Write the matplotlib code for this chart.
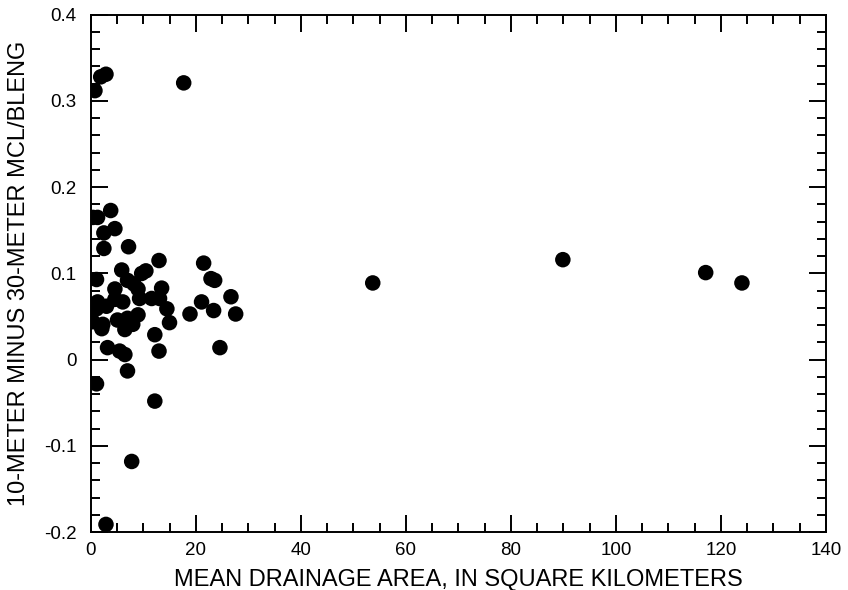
import matplotlib.pyplot as plt
from matplotlib.ticker import MultipleLocator

plt.rcParams['font.family'] = ['Liberation Sans', 'DejaVu Sans']

# mean drainage area (km2) and difference in MCL/BLENG
area = [0.8, 1.9, 2.9, 17.7, 3.8, 0.4, 1.3, 2.5, 4.6, 2.5, 7.2, 13.0, 21.5,
        5.9, 10.5, 9.7, 1.1, 7.0, 22.9, 23.6, 4.6, 9.0, 13.5, 26.7, 1.3, 4.6,
        6.1, 9.3, 11.6, 13.1, 21.1, 1.1, 14.5, 18.9, 23.4, 27.6, 0.4, 2.3,
        5.1, 7.0, 9.0, 8.0, 6.5, 15.0, 2.1, 12.2, 3.2, 5.5, 6.5, 13.0, 24.6,
        7.0, 1.1, 12.2, 7.8, 2.9, 53.7, 89.9, 117.1, 124.0, 3.0, 8.2]
diff = [0.312, 0.328, 0.331, 0.321, 0.173, 0.165, 0.165, 0.147, 0.152, 0.129,
        0.131, 0.115, 0.112, 0.104, 0.103, 0.100, 0.093, 0.092, 0.094, 0.092,
        0.082, 0.082, 0.083, 0.073, 0.067, 0.070, 0.067, 0.071, 0.071, 0.071,
        0.067, 0.059, 0.059, 0.053, 0.057, 0.053, 0.044, 0.041, 0.046, 0.048,
        0.052, 0.041, 0.035, 0.043, 0.036, 0.029, 0.014, 0.010, 0.006, 0.010,
        0.014, -0.013, -0.028, -0.048, -0.118, -0.191, 0.089, 0.116, 0.101,
        0.089, 0.062, 0.088]

fig = plt.figure(figsize=(8.48, 5.9), dpi=100)
ax = fig.add_axes([0.107, 0.098, 0.867, 0.877])

ax.scatter(area, diff, s=125, color='black', edgecolors='none', zorder=3)

ax.set_xlim(0, 140)
ax.set_ylim(-0.2, 0.4)
ax.xaxis.set_major_locator(MultipleLocator(20))
ax.xaxis.set_minor_locator(MultipleLocator(5))
ax.yaxis.set_major_locator(MultipleLocator(0.1))
ax.yaxis.set_minor_locator(MultipleLocator(0.02))
ax.set_yticks([-0.2, -0.1, 0, 0.1, 0.2, 0.3, 0.4])
ax.set_yticklabels(['-0.2', '-0.1', '0', '0.1', '0.2', '0.3', '0.4'])

ax.tick_params(which='both', direction='in', top=True, right=True,
               labelsize=13.5, width=1.4)
ax.tick_params(which='major', length=12)
ax.tick_params(which='minor', length=6.5)
ax.tick_params(axis='x', which='major', pad=7)
ax.tick_params(axis='y', which='major', pad=10)
for sp in ax.spines.values():
    sp.set_linewidth(1.4)

ax.set_xlabel('MEAN DRAINAGE AREA, IN SQUARE KILOMETERS', fontsize=17,
              labelpad=7)
ax.set_ylabel('10-METER MINUS 30-METER MCL/BLENG', fontsize=17,
              labelpad=10)

fig.savefig('out.png', dpi=100)
